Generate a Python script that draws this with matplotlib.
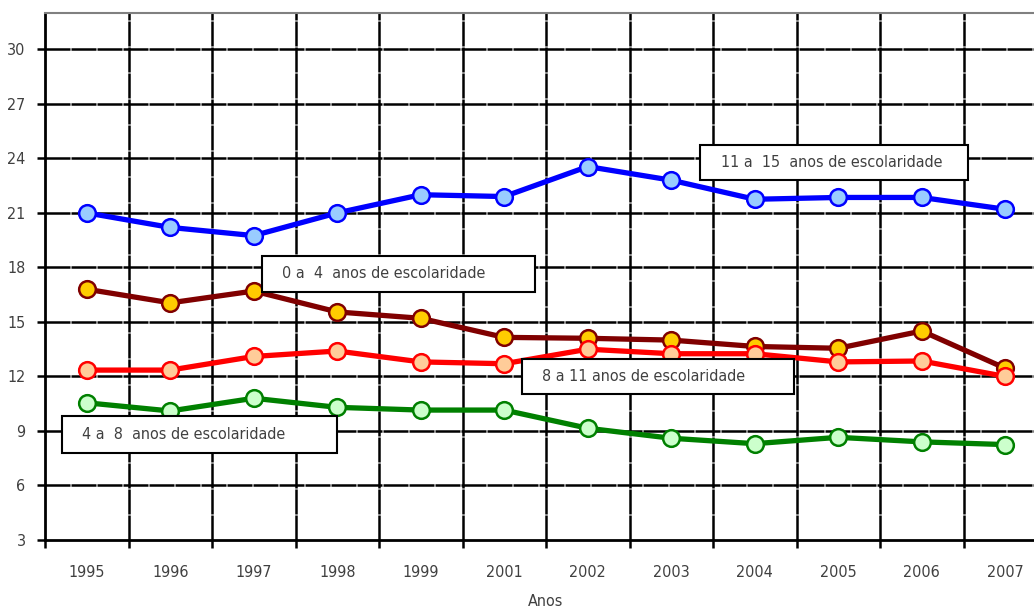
import numpy as np
import matplotlib.pyplot as plt
from matplotlib.ticker import FixedLocator
from matplotlib.patches import Rectangle

plt.rcParams['font.family'] = ['DejaVu Sans']
plt.rcParams['font.stretch'] = 'condensed'

anos = ['1995', '1996', '1997', '1998', '1999', '2001', '2002', '2003', '2004', '2005', '2006', '2007']

esc_11_15 = [21.0, 20.2, 19.75, 21.0, 22.0, 21.9, 23.55, 22.8, 21.75, 21.85, 21.85, 21.2]
esc_0_4 = [16.8, 16.05, 16.7, 15.55, 15.2, 14.15, 14.1, 14.0, 13.65, 13.55, 14.5, 12.45]
esc_8_11 = [12.35, 12.35, 13.1, 13.4, 12.8, 12.7, 13.5, 13.25, 13.25, 12.8, 12.85, 12.0]
esc_4_8 = [10.55, 10.1, 10.8, 10.3, 10.15, 10.15, 9.15, 8.6, 8.3, 8.65, 8.4, 8.25]

yticks = [3, 6, 9, 12, 15, 18, 21, 24, 27, 30]

fig = plt.figure(figsize=(10.34, 6.11), dpi=100)
ax = fig.add_axes([45/1034, 71/611, 1002/1034, 527/611])

x = np.arange(len(anos))

# grid
for yv in yticks[1:]:
    ax.axhline(yv, color='black', lw=1.8, ls=(0, (10, 0.4)), zorder=1)
for xv in np.arange(0.5, len(anos) - 0.5, 1):
    ax.axvline(xv, color='black', lw=1.8, ls=(0, (10, 0.4)), zorder=1)

series = [
    (esc_0_4, '#800000', '#ffcc00'),
    (esc_8_11, '#ff0000', '#ffcc99'),
    (esc_4_8, '#008000', '#ccffcc'),
    (esc_11_15, '#0000ff', '#99ccff'),
]
for vals, lc, fc in series:
    ax.plot(x, vals, color=lc, lw=3.8, marker='o', ms=12, mfc=fc, mec=lc, mew=1.8, zorder=3)

# label boxes: (left x, bottom y, width, height) in data units
labels = [
    (7.35, 22.8, 3.2, 1.95, '11 a  15  anos de escolaridade'),
    (2.1, 16.65, 3.27, 1.98, '0 a  4  anos de escolaridade'),
    (5.21, 11.05, 3.26, 1.92, '8 a 11 anos de escolaridade'),
    (-0.3, 7.8, 3.3, 2.0, '4 a  8  anos de escolaridade'),
]
for lx, ly, w, h, txt in labels:
    ax.add_patch(Rectangle((lx, ly), w, h, fc='white', ec='black', lw=1.5, zorder=5))
    ax.text(lx + 0.24, ly + h / 2, txt, fontsize=11.5, color='#404040', va='center', ha='left', zorder=6)

ax.set_xlim(-0.5, len(anos) - 0.5)
ax.set_ylim(3, 32)
ax.set_yticks(yticks)
ax.set_xticks(x)
ax.set_xticklabels(anos)
ax.xaxis.set_minor_locator(FixedLocator(np.arange(-0.5, len(anos), 1)))
ax.tick_params(axis='x', which='major', length=0, pad=18, labelsize=11.5, labelcolor='#404040')
ax.tick_params(axis='x', which='minor', length=6, width=1.8, color='black')
ax.tick_params(axis='y', length=6, width=1.8, color='black', labelsize=11.5, labelcolor='#404040', pad=8)

for s in ['left', 'bottom']:
    ax.spines[s].set_linewidth(2)
    ax.spines[s].set_color('black')
ax.spines['top'].set_color('#808080')
ax.spines['top'].set_linewidth(1.5)
ax.spines['right'].set_visible(False)

ax.set_xlabel('Anos', fontsize=11.5, color='#404040', labelpad=10)

fig.savefig('out.png', dpi=100)
